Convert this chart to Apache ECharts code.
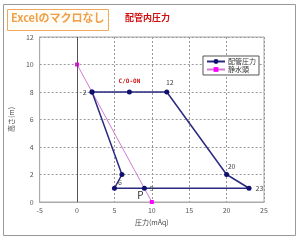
<!DOCTYPE html>
<html><head><meta charset="utf-8">
<script src="https://cdn.jsdelivr.net/npm/echarts@6/dist/echarts.min.js"></script>
<style>html,body{margin:0;padding:0;background:#fff}#c{width:300px;height:240px}</style>
</head><body><div id="c"></div>
<script>
const pipeX = [2, 7, 12, 20, 23, 9, 5, 6, 2];
const pipeY = [8, 8, 8, 2, 1, 1, 1, 2, 8];
const pipeLabels = ['2', 'C/O-ON', '12', '20', '23', '9', '', '6', ''];
const headX = [0, 10];
const headY = [10, 0];
const xTicks = [-5, 0, 5, 10, 15, 20, 25];
const yTicks = [0, 2, 4, 6, 8, 10, 12];
const titleText = 'Excelのマクロなし';
const subTitle = '配管内圧力';
const seriesNames = ['配管圧力', '静水頭'];
const xName = '圧力(mAq)';
const yName = '高さ(m)';
const pointNote = 'P';

const FONT = '"Noto Sans CJK JP", "Noto Sans", sans-serif';
const labelStyles = [
  {position: 'left', distance: 3},
  {position: 'top', distance: 5, color: '#d01010', fontWeight: 'bold', fontSize: 6, fontFamily: 'DejaVu Sans Mono'},
  {position: 'top', distance: 4, offset: [3, 0]},
  {position: 'top', distance: 2, offset: [5, 0]},
  {position: 'right', distance: 4},
  {position: 'right', distance: 3},
  {show: false},
  {position: 'bottom', distance: 2, offset: [-2, 0]},
  {show: false}
];
const pipeData = pipeX.map((x, i) => ({
  value: [x, pipeY[i]],
  label: Object.assign({show: pipeLabels[i] !== '', formatter: pipeLabels[i], fontSize: 7, color: '#444', fontFamily: FONT}, labelStyles[i])
}));
const headData = headX.map((x, i) => [x, headY[i]]);

const chart = echarts.init(document.getElementById('c'), null, {renderer: 'canvas'});
chart.setOption({
  backgroundColor: '#fff',
  animation: false,
  textStyle: {fontFamily: FONT},
  graphic: [
    {type: 'rect', shape: {x: 3.5, y: 4.5, width: 292, height: 231}, style: {fill: 'none', stroke: '#999', lineWidth: 1}, z: 0},
    {type: 'rect', shape: {x: 7.5, y: 9.5, width: 101, height: 21}, style: {fill: '#fffdf8', stroke: '#f0a860', lineWidth: 1}},
    {type: 'text', left: 11, top: 12, style: {text: titleText, fill: '#f0a048', font: 'bold 11px "Noto Sans CJK JP", sans-serif'}},
    {type: 'text', left: 125, top: 13, style: {text: subTitle, fill: '#d01010', font: 'bold 9px "Noto Sans CJK JP", sans-serif'}}
  ],
  grid: {left: 37, right: 36, top: 37, bottom: 38, show: true, borderColor: '#aaa', borderWidth: 1},
  legend: {
    orient: 'vertical', left: 203, top: 56,
    backgroundColor: '#fff', borderColor: '#555', borderWidth: 1, padding: [2, 3],
    itemGap: 1, itemWidth: 18, itemHeight: 6,
    textStyle: {fontSize: 7, color: '#333', padding: [0, 0, 0, -2]},
    data: seriesNames
  },
  xAxis: {
    type: 'value', min: xTicks[0], max: xTicks[xTicks.length - 1], interval: 5,
    name: xName, nameLocation: 'middle', nameGap: 17,
    nameTextStyle: {fontSize: 7, color: '#444'},
    axisLine: {show: true, onZero: false, lineStyle: {color: '#aaa'}},
    axisTick: {show: false},
    axisLabel: {fontSize: 7, color: '#555', margin: 5},
    splitLine: {show: true, lineStyle: {color: '#999', type: [2, 2], width: 1}}
  },
  yAxis: {
    type: 'value', min: yTicks[0], max: yTicks[yTicks.length - 1], interval: 2,
    name: yName, nameLocation: 'middle', nameGap: 19, nameRotate: 90,
    nameTextStyle: {fontSize: 7, color: '#444'},
    axisLine: {show: true, onZero: false, lineStyle: {color: '#aaa'}},
    axisTick: {show: false},
    axisLabel: {fontSize: 7, color: '#555', margin: 6},
    splitLine: {show: true, lineStyle: {color: '#999', type: [2, 2], width: 1}}
  },
  series: [
    {
      name: seriesNames[0], type: 'line', data: pipeData,
      symbol: 'circle', symbolSize: 5,
      itemStyle: {color: '#101070'},
      lineStyle: {color: '#2a2a80', width: 1.5},
      z: 4,
      markPoint: {
        symbol: 'circle', symbolSize: 1, itemStyle: {color: 'rgba(0,0,0,0)'},
        label: {show: true, formatter: pointNote, fontSize: 10, color: '#333', offset: [-4, 7]},
        data: [{coord: [9, 1]}]
      }
    },
    {
      name: seriesNames[1], type: 'line', data: headData,
      symbol: 'rect', symbolSize: 4,
      itemStyle: {color: '#ff00ff'},
      lineStyle: {color: '#d27ad2', width: 1},
      z: 3,
      markLine: {
        silent: true, symbol: 'none', label: {show: false},
        lineStyle: {color: '#555', type: 'solid', width: 1},
        data: [{xAxis: 0}]
      }
    }
  ]
});
</script></body></html>
